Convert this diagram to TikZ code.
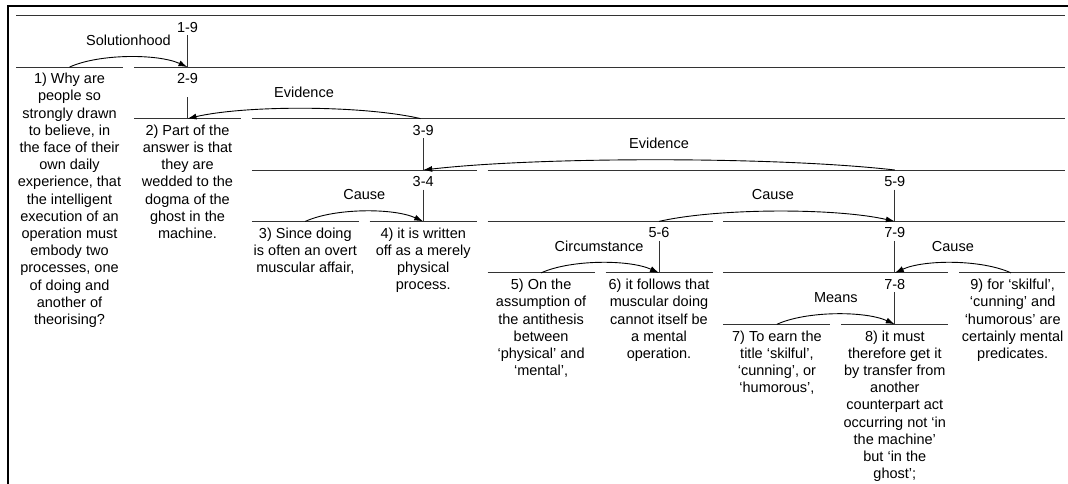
\documentclass[tikz,border=0pt]{standalone}
\usepackage{fontspec}
\setmainfont{Liberation Sans}
\usetikzlibrary{arrows.meta,calc}
\newcommand\utext[1]{\begin{tabular}[t]{@{}c@{}}#1\end{tabular}}
\newcommand\relarc[2]{\draw[relarrow] (#1) .. controls ($(#1)!0.25!(#2)+(0,-13.5)$) and ($(#1)!0.75!(#2)+(0,-13.5)$) .. (#2);}
\begin{document}
\begin{tikzpicture}[x=1pt,y=-1pt,
  seg/.style={line width=1pt, draw=black!80},
  txt/.style={font=\fontsize{14.5}{17.2}\selectfont, inner sep=0pt, anchor=base},
  relarrow/.style={line width=0.9pt, -{Latex[length=9pt,width=6pt]}},
  frame/.style={line width=2pt, draw=black}
]
\useasboundingbox (0,0) rectangle (1068,484);
% frame
\draw[frame] (8.3,490) -- (8.3,5.7) -- (1075,5.7);

% level y values
\def\Ya{15.7}\def\Yb{67.1}\def\Yc{118.6}\def\Yd{170.0}\def\Ye{221.4}\def\Yf{272.9}\def\Yg{324.3}
% horizontal span segments
\draw[seg] (16,\Ya) -- (1065,\Ya);
\draw[seg] (16,\Yb) -- (123,\Yb);
\draw[seg] (134,\Yb) -- (1065,\Yb);
\draw[seg] (134,\Yc) -- (241,\Yc);
\draw[seg] (251.8,\Yc) -- (1065,\Yc);
\draw[seg] (251.8,\Yd) -- (476.7,\Yd);
\draw[seg] (487.6,\Yd) -- (1065,\Yd);
\draw[seg] (251.8,\Ye) -- (358.8,\Ye);
\draw[seg] (369.7,\Ye) -- (476.7,\Ye);
\draw[seg] (487.6,\Ye) -- (712.5,\Ye);
\draw[seg] (723.4,\Ye) -- (1065,\Ye);
\draw[seg] (487.6,\Yf) -- (594.6,\Yf);
\draw[seg] (605.5,\Yf) -- (712.5,\Yf);
\draw[seg] (723.4,\Yf) -- (948.3,\Yf);
\draw[seg] (959.2,\Yf) -- (1065,\Yf);
\draw[seg] (723.4,\Yg) -- (830.4,\Yg);
\draw[seg] (841.3,\Yg) -- (948.3,\Yg);

% span labels
\node[txt] (l19) at (187.5,32.2) {1-9};
\node[txt] (l29) at (187.5,83.6) {2-9};
\node[txt] (l39) at (423.2,135.1) {3-9};
\node[txt] (l34) at (423.2,186.5) {3-4};
\node[txt] (l59) at (894.8,186.5) {5-9};
\node[txt] (l56) at (659,237.9) {5-6};
\node[txt] (l79) at (894.8,237.9) {7-9};
\node[txt] (l78) at (894.8,289.4) {7-8};

% attachment points
\coordinate (n19) at (187.5,\Yb);
\coordinate (n29) at (187.5,\Yc);
\coordinate (n39) at (423.2,\Yd);
\coordinate (n34) at (423.2,\Ye);
\coordinate (n59) at (894.8,\Ye);
\coordinate (n56) at (659,\Yf);
\coordinate (n79) at (894.8,\Yf);
\coordinate (n78) at (894.8,\Yg);

% verticals
\draw[seg] ([yshift=-3pt]l19.base) -- (n19);
\draw[seg] ([yshift=-13.5pt]l29.base) -- (n29);
\draw[seg] ([yshift=-3pt]l39.base) -- (n39);
\draw[seg] ([yshift=-3pt]l34.base) -- (n34);
\draw[seg] ([yshift=-3pt]l59.base) -- (n59);
\draw[seg] ([yshift=-3pt]l56.base) -- (n56);
\draw[seg] ([yshift=-3pt]l79.base) -- (n79);
\draw[seg] ([yshift=-3pt]l78.base) -- (n78);

% satellite start points
\coordinate (s1) at (69.5,\Yb);
\coordinate (s39) at (420.5,\Yc);
\coordinate (s59) at (894.8,\Yd);
\coordinate (s3) at (305.3,\Ye);
\coordinate (s56) at (659,\Ye);
\coordinate (s5) at (541.1,\Yf);
\coordinate (s9) at (1011,\Yf);
\coordinate (s7) at (776.9,\Yg);

% relation arcs
\relarc{s1}{n19}
\relarc{s39}{n29}
\relarc{s59}{n39}
\relarc{s3}{n34}
\relarc{s56}{n59}
\relarc{s5}{n56}
\relarc{s9}{n79}
\relarc{s7}{n78}

% relation labels
\node[txt] (r1) at ($(s1)!0.5!(n19)+(0,-21.3)$) {Solutionhood};
\node[txt] (r2) at ($(s39)!0.5!(n29)+(0,-21.5)$) {Evidence};
\node[txt] (r3) at ($(s59)!0.5!(n39)+(0,-21.8)$) {Evidence};
\node[txt] (r4) at ($(s3)!0.5!(n34)+(0,-21.5)$) {Cause};
\node[txt] (r5) at ($(s56)!0.5!(n59)+(-4,-21.5)$) {Cause};
\node[txt] (r6) at ($(s5)!0.5!(n56)+(-1,-21.5)$) {Circumstance};
\node[txt] (r7) at ($(s9)!0.5!(n79)+(0,-21.5)$) {Cause};
\node[txt] (r8) at ($(s7)!0.5!(n78)+(0,-21.5)$) {Means};

% units
\node[txt] (u1) at (69.5,83.8) {\utext{1) Why are\\people so\\strongly drawn\\to believe, in\\the face of their\\own daily\\experience, that\\the intelligent\\execution of an\\operation must\\embody two\\processes, one\\of doing and\\another of\\theorising?}};
\node[txt] (u2) at (187.5,135.3) {\utext{2) Part of the\\answer is that\\they are\\wedded to the\\dogma of the\\ghost in the\\machine.}};
\node[txt] (u3) at (305.3,238.1) {\utext{3) Since doing\\is often an overt\\muscular affair,}};
\node[txt] (u4) at (423.2,238.1) {\utext{4) it is written\\off as a merely\\physical\\process.}};
\node[txt] (u5) at (541.1,289.6) {\utext{5) On the\\assumption of\\the antithesis\\between\\‘physical’ and\\‘mental’,}};
\node[txt] (u6) at (659,289.6) {\utext{6) it follows that\\muscular doing\\cannot itself be\\a mental\\operation.}};
\node[txt] (u7) at (776.9,341) {\utext{7) To earn the\\title ‘skilful’,\\‘cunning’, or\\‘humorous’,}};
\node[txt] (u8) at (894.8,341) {\utext{8) it must\\therefore get it\\by transfer from\\another\\counterpart act\\occurring not ‘in\\the machine’\\but ‘in the\\ghost’;}};
\node[txt] (u9) at (1012.7,289.6) {\utext{9) for ‘skilful’,\\‘cunning’ and\\‘humorous’ are\\certainly mental\\predicates.}};
\end{tikzpicture}
\end{document}
